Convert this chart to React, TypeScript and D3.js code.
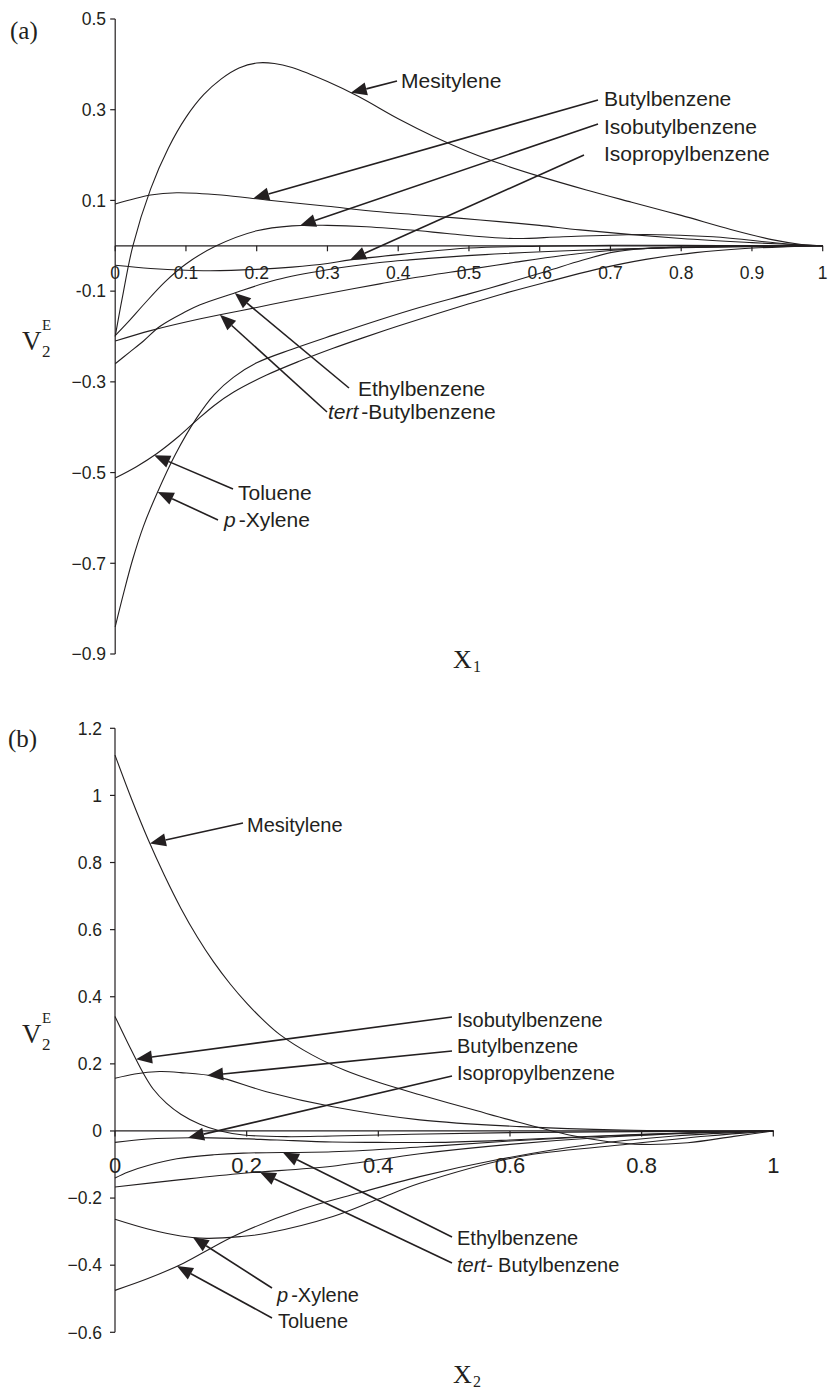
import React from "react";
import * as d3 from "d3";

type Pt = [number, number];

// ---------- Panel (a): V2E against x1 ----------
const mesityleneA: Pt[] = [
  [0, -0.2], [0.01, -0.115], [0.025, 0.0], [0.05, 0.125], [0.075, 0.215], [0.1, 0.283],
  [0.125, 0.333], [0.15, 0.368], [0.175, 0.392], [0.2, 0.403], [0.225, 0.402], [0.25, 0.393],
  [0.3, 0.362], [0.344, 0.329], [0.4, 0.28], [0.45, 0.241], [0.5, 0.207], [0.55, 0.178],
  [0.6, 0.153], [0.666, 0.123], [0.73, 0.096], [0.8, 0.067], [0.87, 0.036], [0.93, 0.013],
  [0.97, 0.003], [1, 0],
];
const butylA: Pt[] = [
  [0, 0.092], [0.05, 0.112], [0.087, 0.117], [0.15, 0.112], [0.214, 0.101], [0.3, 0.087],
  [0.374, 0.075], [0.43, 0.068], [0.516, 0.057], [0.6, 0.045], [0.657, 0.035], [0.8, 0.016],
  [0.9, 0.007], [1, 0],
];
const isobutylA: Pt[] = [
  [0, -0.198], [0.02, -0.165], [0.04, -0.13], [0.07, -0.08], [0.1, -0.04], [0.143, 0.0],
  [0.2, 0.033], [0.25, 0.044], [0.3, 0.045], [0.355, 0.042], [0.43, 0.033], [0.469, 0.027],
  [0.563, 0.016], [0.633, 0.02], [0.751, 0.025], [0.845, 0.02], [0.95, 0.004], [1, 0],
];
const isopropylA: Pt[] = [
  [0, -0.043], [0.05, -0.05], [0.1, -0.054], [0.134, -0.055], [0.2, -0.052], [0.25, -0.047],
  [0.3, -0.039], [0.332, -0.031], [0.416, -0.017], [0.5, -0.005], [0.6, -0.001],
  [0.7, 0.001], [0.8, 0.001], [0.9, 0.0005], [1, 0],
];
const ethylA: Pt[] = [
  [0, -0.26], [0.02, -0.235], [0.04, -0.21], [0.063, -0.178], [0.1, -0.145], [0.12, -0.13],
  [0.167, -0.105], [0.228, -0.075], [0.3, -0.053], [0.374, -0.037], [0.416, -0.031],
  [0.516, -0.02], [0.657, -0.01], [0.8, -0.004], [0.9, -0.002], [1, 0],
];
const tertButylA: Pt[] = [
  [0, -0.21], [0.05, -0.187], [0.1, -0.168], [0.148, -0.152], [0.2, -0.136], [0.25, -0.12],
  [0.308, -0.103], [0.374, -0.084], [0.42, -0.071], [0.5, -0.052], [0.563, -0.037],
  [0.63, -0.022], [0.704, -0.01], [0.8, -0.003], [0.9, -0.001], [1, 0],
];
const tolueneA: Pt[] = [
  [0, -0.512], [0.03, -0.487], [0.059, -0.458], [0.09, -0.42], [0.115, -0.385], [0.14, -0.352],
  [0.167, -0.323], [0.214, -0.285], [0.261, -0.254], [0.308, -0.226], [0.35, -0.203],
  [0.4, -0.177], [0.45, -0.152], [0.5, -0.128], [0.55, -0.105], [0.61, -0.08], [0.68, -0.052],
  [0.75, -0.03], [0.82, -0.015], [0.89, -0.006], [0.95, -0.002], [1, 0],
];
const pXyleneA: Pt[] = [
  [0, -0.84], [0.012, -0.765], [0.025, -0.69], [0.04, -0.618], [0.059, -0.546], [0.085, -0.46],
  [0.115, -0.38], [0.14, -0.328], [0.167, -0.29], [0.2, -0.258], [0.25, -0.228],
  [0.308, -0.197], [0.374, -0.163], [0.43, -0.136], [0.5, -0.106], [0.55, -0.084],
  [0.61, -0.056], [0.66, -0.032], [0.704, -0.014], [0.75, -0.006], [0.8, -0.003],
  [0.9, -0.001], [1, 0],
];

const xTicksA = [0, 0.1, 0.2, 0.3, 0.4, 0.5, 0.6, 0.7, 0.8, 0.9, 1];
const xTickLabelsA = ["0", "0.1", "0.2", "0.3", "0.4", "0.5", "0.6", "0.7", "0.8", "0.9", "1"];
const yTicksA = [0.5, 0.3, 0.1, -0.1, -0.3, -0.5, -0.7, -0.9];
const yTickLabelsA = ["0.5", "0.3", "0.1", "-0.1", "\u22120.3", "\u22120.5", "\u22120.7", "\u22120.9"];

// ---------- Panel (b): V2E against x2 ----------
const mesityleneB: Pt[] = [
  [0, 1.12], [0.025, 0.99], [0.05, 0.87], [0.075, 0.762], [0.1, 0.664], [0.125, 0.578],
  [0.15, 0.503], [0.175, 0.438], [0.2, 0.381], [0.225, 0.331], [0.25, 0.288], [0.3, 0.226],
  [0.35, 0.18], [0.4, 0.145], [0.463, 0.108], [0.55, 0.06], [0.615, 0.025], [0.69, -0.012],
  [0.75, -0.032], [0.8, -0.04], [0.87, -0.035], [0.94, -0.016], [1, 0],
];
const isobutylB: Pt[] = [
  [0, 0.341], [0.02, 0.26], [0.043, 0.172], [0.058, 0.125], [0.078, 0.083], [0.1, 0.05],
  [0.129, 0.02], [0.16, 0.0], [0.195, -0.012], [0.26, -0.017], [0.33, -0.015], [0.45, -0.01],
  [0.6, -0.005], [0.8, -0.002], [1, 0],
];
const butylB: Pt[] = [
  [0, 0.157], [0.03, 0.17], [0.068, 0.177], [0.1, 0.174], [0.154, 0.162], [0.23, 0.117],
  [0.331, 0.072], [0.463, 0.033], [0.615, 0.013], [0.77, 0.003], [1, 0],
];
const isopropylB: Pt[] = [
  [0, -0.034], [0.05, -0.024], [0.114, -0.02], [0.18, -0.022], [0.246, -0.027], [0.33, -0.033],
  [0.4, -0.034], [0.494, -0.034], [0.6, -0.027], [0.7, -0.018], [0.8, -0.01], [0.9, -0.004],
  [1, 0],
];
const ethylB: Pt[] = [
  [0, -0.14], [0.02, -0.122], [0.05, -0.103], [0.094, -0.083], [0.15, -0.071], [0.195, -0.066],
  [0.33, -0.062], [0.463, -0.048], [0.6, -0.03], [0.75, -0.015], [0.9, -0.004], [1, 0],
];
const tertButylB: Pt[] = [
  [0, -0.167], [0.1, -0.145], [0.195, -0.126], [0.33, -0.105], [0.463, -0.068], [0.6, -0.04],
  [0.75, -0.018], [0.9, -0.005], [1, 0],
];
const pXyleneB: Pt[] = [
  [0, -0.263], [0.05, -0.292], [0.1, -0.313], [0.139, -0.32], [0.19, -0.315], [0.23, -0.305],
  [0.331, -0.255], [0.4, -0.203], [0.463, -0.156], [0.615, -0.076], [0.767, -0.042],
  [0.9, -0.015], [1, 0],
];
const tolueneB: Pt[] = [
  [0, -0.475], [0.05, -0.44], [0.104, -0.394], [0.15, -0.345], [0.19, -0.305], [0.281, -0.235],
  [0.37, -0.185], [0.463, -0.136], [0.58, -0.086], [0.716, -0.042], [0.85, -0.015], [1, 0],
];

const xTicksB = [0, 0.2, 0.4, 0.6, 0.8, 1];
const xTickLabelsB = ["0", "0.2", "0.4", "0.6", "0.8", "1"];
const yTicksB = [1.2, 1, 0.8, 0.6, 0.4, 0.2, 0, -0.2, -0.4, -0.6];
const yTickLabelsB = ["1.2", "1", "0.8", "0.6", "0.4", "0.2", "0", "\u22120.2", "\u22120.4", "\u22120.6"];

// ---------- styling ----------
const INK = "#231f20";
const SANS = "'Liberation Sans', Arial, Helvetica, sans-serif";
const SERIF = "'Liberation Serif', 'Times New Roman', serif";

type Piece = { t: string; italic?: boolean; dx?: number };
type Note = {
  data: Pt[];
  at: number; // x value on the curve the arrow points to
  text: Piece[];
  lx: number;
  ly: number;
  sx: number;
  sy: number;
};

type PanelCfg = {
  tag: string;
  tagX: number;
  tagY: number;
  xRange: [number, number];
  yDomain: [number, number];
  yRange: [number, number];
  series: Pt[][];
  xTicks: number[];
  xTickLabels: string[];
  xTickFont: number;
  xTickDy: number;
  yTicks: number[];
  yTickLabels: string[];
  yLabelRight: number;
  noteFont: number;
  notes: Note[];
  vx: number;
  vy: number;
  xLabelX: number;
  xLabelY: number;
  xSub: string;
};

function valueAt(data: Pt[], x: number): number {
  const i = d3.bisector((d: Pt) => d[0]).left(data, x);
  if (i <= 0) return data[0][1];
  if (i >= data.length) return data[data.length - 1][1];
  const [x0, y0] = data[i - 1];
  const [x1, y1] = data[i];
  return y0 + ((y1 - y0) * (x - x0)) / (x1 - x0);
}

function Panel({ cfg }: { cfg: PanelCfg }) {
  const x = d3.scaleLinear().domain([0, 1]).range(cfg.xRange);
  const y = d3.scaleLinear().domain(cfg.yDomain).range(cfg.yRange);
  const line = d3
    .line<Pt>()
    .x((d) => x(d[0]))
    .y((d) => y(d[1]))
    .curve(d3.curveCatmullRom.alpha(0.5));
  const x0 = x(0);
  const y0 = y(0);

  return (
    <g>
      <text x={cfg.tagX} y={cfg.tagY} fontFamily={SERIF} fontSize={25} fill={INK}>
        {cfg.tag}
      </text>

      {/* y axis */}
      <line x1={x0} x2={x0} y1={y(cfg.yDomain[1])} y2={y(cfg.yDomain[0])} stroke={INK} strokeWidth={1.2} />
      {cfg.yTicks.map((t, i) => (
        <g key={"yt" + i}>
          <line x1={x0 - 5} x2={x0} y1={y(t)} y2={y(t)} stroke={INK} strokeWidth={1.2} />
          <text
            x={cfg.yLabelRight}
            y={y(t)}
            dy="0.36em"
            textAnchor="end"
            fontFamily={SANS}
            fontSize={17.5}
            fill={INK}
          >
            {cfg.yTickLabels[i]}
          </text>
        </g>
      ))}

      {/* x axis along zero */}
      <line x1={x(0)} x2={x(1)} y1={y0} y2={y0} stroke={INK} strokeWidth={1.2} />
      {cfg.xTicks.map((t, i) => (
        <g key={"xt" + i}>
          <line x1={x(t)} x2={x(t)} y1={y0} y2={y0 + 5.5} stroke={INK} strokeWidth={1.2} />
          <text
            x={x(t)}
            y={y0 + cfg.xTickDy}
            textAnchor="middle"
            fontFamily={SANS}
            fontSize={cfg.xTickFont}
            fill={INK}
          >
            {cfg.xTickLabels[i]}
          </text>
        </g>
      ))}

      {/* curves */}
      {cfg.series.map((s, i) => (
        <path key={"s" + i} d={line(s) || ""} fill="none" stroke={INK} strokeWidth={1.1} />
      ))}

      {/* labelled arrows */}
      {cfg.notes.map((n, i) => {
        const tx = x(n.at);
        const ty = y(valueAt(n.data, n.at));
        const ang = Math.atan2(n.sy - ty, n.sx - tx);
        const len = 16;
        const hw = 6.5;
        const bx = tx + len * Math.cos(ang);
        const by = ty + len * Math.sin(ang);
        const px = -Math.sin(ang) * hw;
        const py = Math.cos(ang) * hw;
        return (
          <g key={"n" + i}>
            <line x1={n.sx} y1={n.sy} x2={bx} y2={by} stroke={INK} strokeWidth={1.6} />
            <polygon
              points={`${tx},${ty} ${bx + px},${by + py} ${bx - px},${by - py}`}
              fill={INK}
            />
            <text x={n.lx} y={n.ly} fontFamily={SANS} fontSize={cfg.noteFont} fill={INK}>
              {n.text.map((p, k) => (
                <tspan key={k} fontStyle={p.italic ? "italic" : "normal"} dx={p.dx || 0}>
                  {p.t}
                </tspan>
              ))}
            </text>
          </g>
        );
      })}

      {/* axis titles */}
      <text x={cfg.vx} y={cfg.vy} fontFamily={SERIF} fontSize={27} fill={INK}>
        V
      </text>
      <text x={cfg.vx + 20} y={cfg.vy + 7} fontFamily={SERIF} fontSize={17} fill={INK}>
        2
      </text>
      <text x={cfg.vx + 20} y={cfg.vy - 20} fontFamily={SERIF} fontSize={15} fill={INK}>
        E
      </text>
      <text x={cfg.xLabelX} y={cfg.xLabelY} fontFamily={SERIF} fontSize={26} fill={INK}>
        X
      </text>
      <text x={cfg.xLabelX + 20} y={cfg.xLabelY + 4} fontFamily={SERIF} fontSize={16} fill={INK}>
        {cfg.xSub}
      </text>
    </g>
  );
}

const panelA: PanelCfg = {
  tag: "(a)",
  tagX: 10,
  tagY: 39,
  xRange: [115.2, 822.7],
  yDomain: [-0.9, 0.5],
  yRange: [654, 19],
  series: [mesityleneA, butylA, isobutylA, isopropylA, ethylA, tertButylA, tolueneA, pXyleneA],
  xTicks: xTicksA,
  xTickLabels: xTickLabelsA,
  xTickFont: 17.5,
  xTickDy: 33,
  yTicks: yTicksA,
  yTickLabels: yTickLabelsA,
  yLabelRight: 106,
  noteFont: 21,
  notes: [
    { data: mesityleneA, at: 0.333, text: [{ t: "Mesitylene" }], lx: 401, ly: 88, sx: 397, sy: 81 },
    { data: butylA, at: 0.195, text: [{ t: "Butylbenzene" }], lx: 604, ly: 106, sx: 598, sy: 100 },
    { data: isobutylA, at: 0.261, text: [{ t: "Isobutylbenzene" }], lx: 604, ly: 134, sx: 598, sy: 124 },
    { data: isopropylA, at: 0.332, text: [{ t: "Isopropylbenzene" }], lx: 604, ly: 161, sx: 584, sy: 155 },
    { data: ethylA, at: 0.169, text: [{ t: "Ethylbenzene" }], lx: 358, ly: 396, sx: 349, sy: 388 },
    {
      data: tertButylA,
      at: 0.148,
      text: [{ t: "tert", italic: true }, { t: "-Butylbenzene", dx: 3 }],
      lx: 328,
      ly: 419,
      sx: 327,
      sy: 412,
    },
    { data: tolueneA, at: 0.055, text: [{ t: "Toluene" }], lx: 238, ly: 500, sx: 233, sy: 489 },
    {
      data: pXyleneA,
      at: 0.06,
      text: [{ t: "p", italic: true }, { t: "-Xylene", dx: 3 }],
      lx: 224,
      ly: 527,
      sx: 218,
      sy: 520,
    },
  ],
  vx: 22,
  vy: 350,
  xLabelX: 453,
  xLabelY: 668,
  xSub: "1",
};

const panelB: PanelCfg = {
  tag: "(b)",
  tagX: 8,
  tagY: 747,
  xRange: [115, 773.3],
  yDomain: [-0.6, 1.2],
  yRange: [1332.3, 728.3],
  series: [mesityleneB, isobutylB, butylB, isopropylB, ethylB, tertButylB, pXyleneB, tolueneB],
  xTicks: xTicksB,
  xTickLabels: xTickLabelsB,
  xTickFont: 22,
  xTickDy: 42,
  yTicks: yTicksB,
  yTickLabels: yTickLabelsB,
  yLabelRight: 102,
  noteFont: 20,
  notes: [
    { data: mesityleneB, at: 0.053, text: [{ t: "Mesitylene" }], lx: 247, ly: 832, sx: 243, sy: 823 },
    { data: isobutylB, at: 0.032, text: [{ t: "Isobutylbenzene" }], lx: 457, ly: 1027, sx: 452, sy: 1017 },
    { data: butylB, at: 0.14, text: [{ t: "Butylbenzene" }], lx: 457, ly: 1053, sx: 452, sy: 1051 },
    { data: isopropylB, at: 0.111, text: [{ t: "Isopropylbenzene" }], lx: 457, ly: 1080, sx: 452, sy: 1076 },
    { data: ethylB, at: 0.255, text: [{ t: "Ethylbenzene" }], lx: 457, ly: 1245, sx: 452, sy: 1237 },
    {
      data: tertButylB,
      at: 0.22,
      text: [{ t: "tert-", italic: true }, { t: " Butylbenzene" }],
      lx: 457,
      ly: 1272,
      sx: 452,
      sy: 1263,
    },
    {
      data: pXyleneB,
      at: 0.118,
      text: [{ t: "p", italic: true }, { t: "-Xylene", dx: 3 }],
      lx: 277,
      ly: 1302,
      sx: 272,
      sy: 1288,
    },
    { data: tolueneB, at: 0.094, text: [{ t: "Toluene" }], lx: 278, ly: 1328, sx: 272, sy: 1318 },
  ],
  vx: 22,
  vy: 1043,
  xLabelX: 453,
  xLabelY: 1383,
  xSub: "2",
};

export default function App() {
  return (
    <svg
      width={829}
      height={1389}
      viewBox="0 0 829 1389"
      style={{ position: "absolute", left: 0, top: 0, background: "#fff" }}
    >
      <rect width={829} height={1389} fill="#fff" />
      <Panel cfg={panelA} />
      <Panel cfg={panelB} />
    </svg>
  );
}
